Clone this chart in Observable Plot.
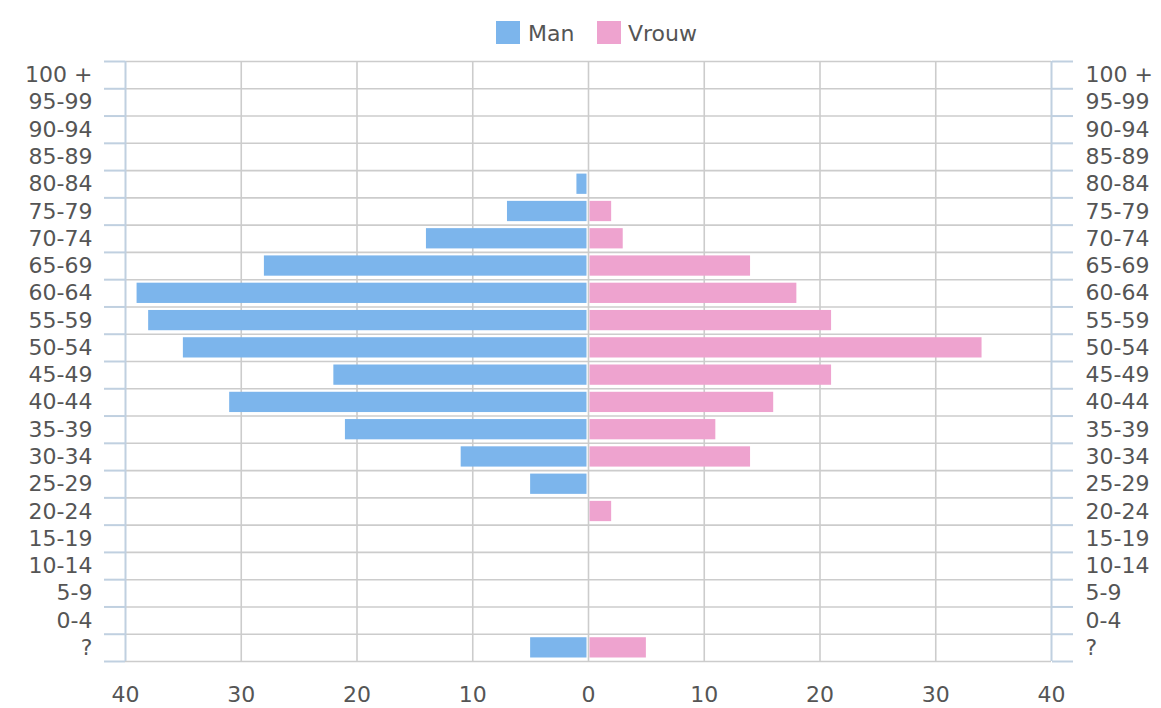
<!DOCTYPE html>
<html>
<head>
<meta charset="utf-8">
<script src="https://cdn.jsdelivr.net/npm/d3@7"></script>
<script src="https://cdn.jsdelivr.net/npm/@observablehq/plot@0.6"></script>
<style>
  html, body { margin: 0; padding: 0; background: #fff; }
  #legend { position: relative; height: 50px; font-family: "DejaVu Sans", sans-serif; font-size: 22px; color: #555; }
  .sw { position: absolute; top: 21px; width: 24px; height: 23px; }
  .lb { position: absolute; top: 22px; line-height: 24px; }
</style>
</head>
<body>
<div id="legend"></div>
<div id="chart"></div>
<script>
const ageGroups = ["100 +","95-99","90-94","85-89","80-84","75-79","70-74","65-69","60-64","55-59","50-54","45-49","40-44","35-39","30-34","25-29","20-24","15-19","10-14","5-9","0-4","?"];
const man   = [0,0,0,0,1,7,14,28,39,38,35,22,31,21,11,5,0,0,0,0,0,5];
const vrouw = [0,0,0,0,0,2,3,14,18,21,34,21,16,11,14,0,2,0,0,0,0,5];
const xTicks = [-40,-30,-20,-10,0,10,20,30,40];
const seriesNames = ["Man","Vrouw"];
const seriesColors = ["#7cb5ec","#eea3cf"];

// legend
const legend = document.getElementById("legend");
const legendX = [[496, 528], [597, 628]];
seriesNames.forEach((n, k) => {
  const s = document.createElement("div");
  s.className = "sw"; s.style.left = legendX[k][0] + "px"; s.style.background = seriesColors[k];
  const t = document.createElement("div");
  t.className = "lb"; t.style.left = legendX[k][1] + "px"; t.textContent = n;
  legend.appendChild(s); legend.appendChild(t);
});

const rows = ageGroups.map((g, i) => ({g, i, man: man[i], vrouw: vrouw[i]}));
const idx = d3.range(ageGroups.length);
const bounds = d3.range(ageGroups.length + 1).map(k => k - 0.5);

const chart = Plot.plot({
  width: 1161,
  height: 658,
  marginLeft: 125,
  marginRight: 110,
  marginTop: 11,
  marginBottom: 47,
  style: {fontFamily: "DejaVu Sans, sans-serif", fontSize: "22px", color: "#555", background: "white"},
  x: {domain: [xTicks[0], xTicks[xTicks.length - 1]]},
  y: {domain: [ageGroups.length - 0.5, -0.5]},
  marks: [
    Plot.ruleY(bounds, {x1: xTicks[0], x2: xTicks[xTicks.length - 1], stroke: "#cccccc", strokeWidth: 1.6}),
    Plot.ruleX(xTicks.slice(1, -1), {stroke: "#cccccc", strokeWidth: 1.6}),
    Plot.rectX(rows, {x1: d => -d.man, x2: 0, y1: d => d.i - 0.5, y2: d => d.i + 0.5, fill: seriesColors[0], insetTop: 3.5, insetBottom: 3.5, insetRight: 1.5}),
    Plot.rectX(rows, {x1: 0, x2: "vrouw", y1: d => d.i - 0.5, y2: d => d.i + 0.5, fill: seriesColors[1], insetTop: 3.5, insetBottom: 3.5, insetLeft: 1.5}),
    Plot.ruleX([xTicks[0], xTicks[xTicks.length - 1]], {stroke: "#c0d0e0", strokeWidth: 2}),
    Plot.axisY(bounds, {anchor: "left", tickSize: 21, tickFormat: () => "", stroke: "#c0d0e0", strokeWidth: 2, strokeOpacity: 1, label: null}),
    Plot.axisY(bounds, {anchor: "right", tickSize: 21, tickFormat: () => "", stroke: "#c0d0e0", strokeWidth: 2, strokeOpacity: 1, label: null}),
    Plot.axisY(idx, {anchor: "left", tickSize: 0, tickPadding: 33, tickFormat: i => ageGroups[i], fill: "#555", fontSize: 22, label: null}),
    Plot.axisY(idx, {anchor: "right", tickSize: 0, tickPadding: 34, tickFormat: i => ageGroups[i], fill: "#555", fontSize: 22, label: null}),
    Plot.axisX(xTicks, {anchor: "bottom", tickSize: 0, tickPadding: 25, tickFormat: d => String(Math.abs(d)), fill: "#555", fontSize: 22, label: null})
  ]
});
document.getElementById("chart").appendChild(chart);
</script>
</body>
</html>
